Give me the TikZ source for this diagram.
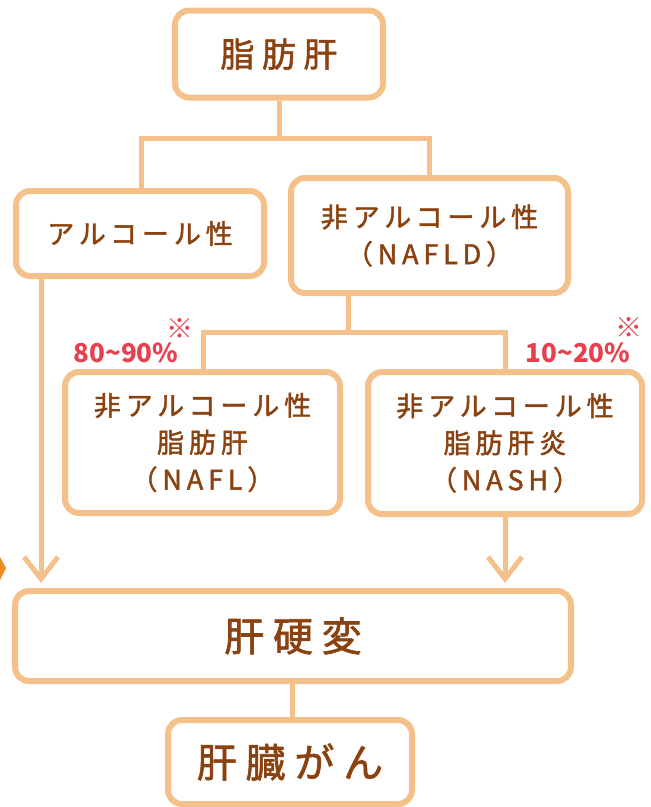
\documentclass[tikz,border=0pt]{standalone}
\usepackage{fontspec}
\setmainfont{Noto Sans CJK JP}
\newfontfamily\jpbig{Noto Sans CJK JP}[LetterSpace=22,FakeBold=1.6]
\newfontfamily\jpmid{Noto Sans CJK JP}[LetterSpace=18,FakeBold=1.6]
\usetikzlibrary{arrows.meta}
\definecolor{bord}{HTML}{F5C18A}
\definecolor{txt}{HTML}{8A4210}
\definecolor{pctcol}{HTML}{E8404F}
\definecolor{tricol}{HTML}{F08A24}
\tikzset{
  box/.style={draw=bord, line width=6pt, rounded corners=14pt, fill=white,
    text=txt, align=center, inner sep=0pt},
  conn/.style={draw=bord, line width=5pt},
  arr/.style={conn, -{Straight Barb[length=22pt,width=34pt]}},
  bigtxt/.style={font=\jpbig\fontsize{40}{48}\selectfont},
  toptxt/.style={font=\jpbig\fontsize{34}{40}\selectfont},
  midtxt/.style={font=\jpmid\fontsize{27}{37}\selectfont},
  pcttxt/.style={text=pctcol, inner sep=0pt, font=\fontsize{26}{30}\selectfont\bfseries},
  kome/.style={text=pctcol, inner sep=0pt, font=\fontsize{27}{28}\selectfont},
}
\begin{document}
\begin{tikzpicture}[x=1pt,y=-1pt]
\useasboundingbox (0,0) rectangle (651,807);
\fill[tricol] (0,557) -- (6,568) -- (0,580) -- cycle;

% boxes
\node[box, toptxt, minimum width=208pt, minimum height=87pt] (top) at (279,54) {脂肪肝};
\node[box, midtxt, minimum width=248pt, minimum height=85pt] (alc) at (140,233.5) {アルコール性};
\node[box, midtxt, minimum width=277pt, minimum height=115pt] (nafld) at (429.5,235.5) {非アルコール性\\（NAFLD）};
\node[box, midtxt, minimum width=275pt, minimum height=141pt] (nafl) at (202.5,442.5) {非アルコール性\\脂肪肝\\（NAFL）};
\node[box, midtxt, minimum width=274pt, minimum height=142pt] (nash) at (505,443) {非アルコール性\\脂肪肝炎\\（NASH）};
\node[box, bigtxt, minimum width=556pt, minimum height=90pt] (cirr) at (293,636) {肝硬変};
\node[box, bigtxt, minimum width=244pt, minimum height=84pt] (canc) at (290,762) {肝臓がん};

% junction coordinates
\coordinate (j1) at (279,138);
\coordinate (l1) at (141,138);
\coordinate (r1) at (429,138);
\coordinate (j2) at (348,332);
\coordinate (l2) at (203,332);
\coordinate (r2) at (505,332);
\coordinate (a1) at (41,583);
\coordinate (a2) at (505,583);
\coordinate (c1) at (292,700);

% connectors
\draw[conn] (top.south) -- (top.south |- j1);
\draw[conn] (l1 |- alc.north) -- (l1) -- (r1) -- (r1 |- nafld.north);
\draw[conn] (nafld.south -| j2) -- (j2);
\draw[conn] (l2 |- nafl.north) -- (l2) -- (r2) -- (r2 |- nash.north);
\draw[arr] (alc.south -| a1) -- (a1);
\draw[arr] (nash.south -| a2) -- (a2);
\draw[conn] (cirr.south -| c1) -- (canc.north -| c1);

% percentages
\node[pcttxt] (p1) at (126,352.5) {80\textasciitilde 90\%};
\node[kome] (k1) at (180,329) {※};
\node[pcttxt] (p2) at (578,352.5) {10\textasciitilde 20\%};
\node[kome] (k2) at (629,328) {※};
\end{tikzpicture}
\end{document}
